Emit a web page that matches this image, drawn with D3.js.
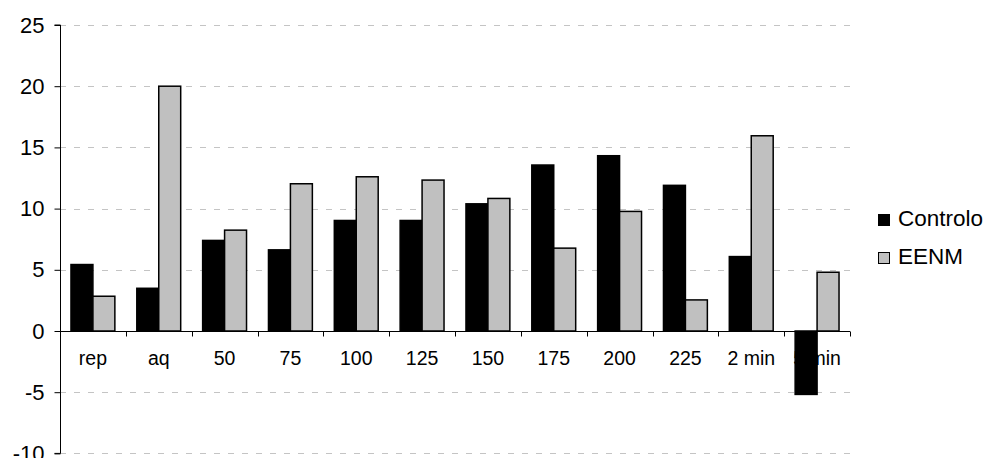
<!DOCTYPE html>
<html>
<head>
<meta charset="utf-8">
<script src="https://cdn.jsdelivr.net/npm/d3@7"></script>
<style>
  html, body { margin: 0; padding: 0; background: #fff; }
  svg { display: block; font-family: "Liberation Sans", Arial, Helvetica, sans-serif; }
</style>
</head>
<body>
<svg id="chart" width="988" height="458"></svg>
<script>
const categories = ["rep", "aq", "50", "75", "100", "125", "150", "175", "200", "225", "2 min", "5 min"];
const seriesNames = ["Controlo", "EENM"];
const controlo = [5.43, 3.49, 7.40, 6.63, 9.03, 9.03, 10.39, 13.56, 14.32, 11.90, 6.08, -5.18];
const eenm = [2.84, 20.0, 8.24, 12.03, 12.6, 12.33, 10.83, 6.77, 9.77, 2.54, 15.95, 4.80];
const yTicks = [-10, -5, 0, 5, 10, 15, 20, 25];
const colors = ["#000000", "#c0c0c0"];

const svg = d3.select("#chart");
const mLeft = 60, mRight = 850, mTop = 25, mBottom = 453.4;

const x = d3.scaleBand().domain(categories).range([mLeft, mRight]).paddingInner(0).paddingOuter(0);
const xInner = d3.scaleBand().domain(seriesNames).range([0, x.bandwidth()]).paddingInner(0).paddingOuter(0.5);
const y = d3.scaleLinear().domain([-10, 25]).range([mBottom, mTop]);

// gridlines
svg.append("g").selectAll("line").data(yTicks.filter(t => t !== 0)).join("line")
  .attr("x1", mLeft).attr("x2", mRight + 2)
  .attr("y1", d => Math.round(y(d)) + 0.5).attr("y2", d => Math.round(y(d)) + 0.5)
  .attr("stroke", "#c4c4c4").attr("stroke-width", 1).attr("stroke-dasharray", "6,8");

// y axis
const yAxis = d3.axisLeft(y).tickValues(yTicks).tickSize(6).tickPadding(10).tickFormat(d => String(d));
const gy = svg.append("g").attr("transform", `translate(${mLeft + 0.5},0)`).call(yAxis);
gy.select(".domain").attr("stroke", "#000").attr("d", `M-6,${y(25)}H0V${y(-10)}H-6`);
gy.selectAll(".tick line").attr("stroke", "#000");
gy.selectAll(".tick text").attr("font-size", 22).attr("fill", "#000")
  .attr("font-family", "Liberation Sans, Arial, sans-serif");

// x category labels (drawn before bars so the negative bar overlaps)
svg.append("g").selectAll("text").data(categories).join("text")
  .attr("x", d => x(d) + x.bandwidth() / 2)
  .attr("y", y(0) + 29)
  .attr("text-anchor", "middle")
  .attr("dominant-baseline", "middle")
  .attr("font-size", 19.5)
  .text(d => d);

// bars
const data = categories.map((c, i) => ({ cat: c, vals: [controlo[i], eenm[i]] }));
const groups = svg.append("g").selectAll("g").data(data).join("g")
  .attr("transform", d => `translate(${x(d.cat)},0)`);
groups.selectAll("rect").data(d => d.vals.map((v, j) => ({ v, s: seriesNames[j], j })))
  .join("rect")
  .attr("x", d => xInner(d.s))
  .attr("width", xInner.bandwidth())
  .attr("y", d => y(Math.max(0, d.v)))
  .attr("height", d => Math.abs(y(d.v) - y(0)))
  .attr("fill", d => colors[d.j])
  .attr("stroke", "#000")
  .attr("stroke-width", 1.5);

// x axis line with ticks
const xAxisG = svg.append("g").attr("transform", `translate(0,${Math.round(y(0)) + 0.5})`);
xAxisG.append("line").attr("x1", mLeft).attr("x2", mRight).attr("stroke", "#000");
const boundaries = categories.map(c => x(c)).concat([mRight]);
xAxisG.selectAll("line.tk").data(boundaries).join("line").attr("class", "tk")
  .attr("x1", d => Math.round(d) + 0.5).attr("x2", d => Math.round(d) + 0.5)
  .attr("y1", 0).attr("y2", 5).attr("stroke", "#000");

// legend
const legend = svg.append("g").attr("transform", "translate(878,0)");
const ly = [220, 258];
seriesNames.forEach((name, i) => {
  legend.append("rect").attr("x", 0.5).attr("y", ly[i] - 5.5).attr("width", 11).attr("height", 11)
    .attr("fill", colors[i]).attr("stroke", "#000").attr("stroke-width", 1);
  legend.append("text").attr("x", 20).attr("y", ly[i]).attr("dominant-baseline", "middle")
    .attr("font-size", 22.5).text(name);
});
</script>
</body>
</html>
